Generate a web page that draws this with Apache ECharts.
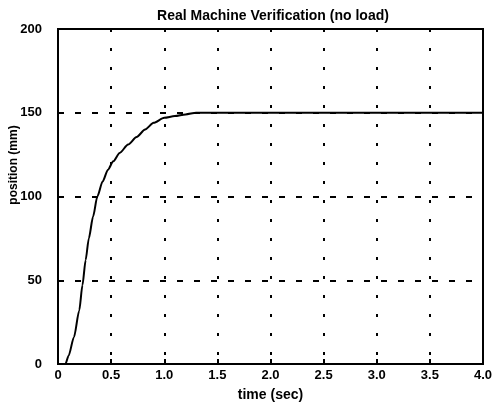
<!DOCTYPE html>
<html>
<head>
<meta charset="utf-8">
<script src="https://cdn.jsdelivr.net/npm/echarts@6/dist/echarts.min.js"></script>
<style>html,body{margin:0;padding:0;background:#fff}#c{width:492px;height:405px}</style>
</head>
<body>
<div id="c"></div>
<script>
const titleText = 'Real Machine Verification (no load)';
const xName = 'time (sec)';
const yName = 'position (mm)';
const timeSec = [0, 0.07, 0.1, 0.15, 0.2, 0.23, 0.26, 0.29, 0.33, 0.37, 0.42, 0.47, 0.52, 0.58, 0.66, 0.74, 0.82, 0.9, 1.0, 1.1, 1.2, 1.3, 1.4, 1.6, 2.0, 3.0, 4.0];
const positionMm = [0, 0, 5, 16, 32, 47, 62, 75, 88, 100, 109, 116, 121, 126, 131, 135.5, 140, 144, 147, 148, 149, 150, 150, 150, 150, 150, 150];
const xTicks = [0, 0.5, 1.0, 1.5, 2.0, 2.5, 3.0, 3.5, 4.0];
const yTicks = [0, 50, 100, 150, 200];

const chart = echarts.init(document.getElementById('c'));
const font = 'Liberation Sans, Arial, sans-serif';
chart.setOption({
  animation: false,
  backgroundColor: '#fff',
  title: {
    text: titleText, left: 268, top: 4, textAlign: 'center',
    textStyle: {fontFamily: font, fontWeight: 'bold', fontSize: 14, color: '#000'}
  },
  graphic: [{
    type: 'text', x: 14, y: 165, rotation: Math.PI / 2,
    style: {text: yName, fill: '#000', font: 'bold 12px Liberation Sans, Arial, sans-serif',
      textAlign: 'center', textVerticalAlign: 'middle', align: 'center', verticalAlign: 'middle'}
  }],
  grid: {left: 58, right: 9, top: 29, bottom: 41, containLabel: false, outerBoundsMode: 'none',
    show: true, borderColor: '#000', borderWidth: 2, backgroundColor: 'transparent'},
  xAxis: {
    type: 'value', min: xTicks[0], max: xTicks[xTicks.length - 1], interval: 0.5,
    name: xName, nameLocation: 'middle', nameGap: 24,
    nameTextStyle: {fontFamily: font, fontWeight: 'bold', fontSize: 14, color: '#000'},
    axisLine: {show: true, lineStyle: {color: '#000', width: 2}},
    axisTick: {show: true, inside: true, length: 5, lineStyle: {color: '#000', width: 2}},
    axisLabel: {margin: 5, fontFamily: font, fontWeight: 'bold', fontSize: 13, color: '#000',
      formatter: v => v === 0 ? '0' : v.toFixed(1)},
    splitLine: {show: true, lineStyle: {color: '#000', width: 2, type: [3, 16]}}
  },
  yAxis: {
    type: 'value', min: yTicks[0], max: yTicks[yTicks.length - 1], interval: 50,
    axisLine: {show: true, lineStyle: {color: '#000', width: 2}},
    axisTick: {show: true, inside: true, length: 5, lineStyle: {color: '#000', width: 2}},
    axisLabel: {margin: 16, fontFamily: font, fontWeight: 'bold', fontSize: 13, color: '#000'},
    splitLine: {show: true, lineStyle: {color: '#000', width: 2, type: [6, 11]}}
  },
  series: [{
    type: 'line', data: timeSec.map((t, i) => [t, positionMm[i]]),
    smooth: 0.25, smoothMonotone: 'x', showSymbol: false, lineStyle: {color: '#000', width: 2}
  }]
});
</script>
</body>
</html>
